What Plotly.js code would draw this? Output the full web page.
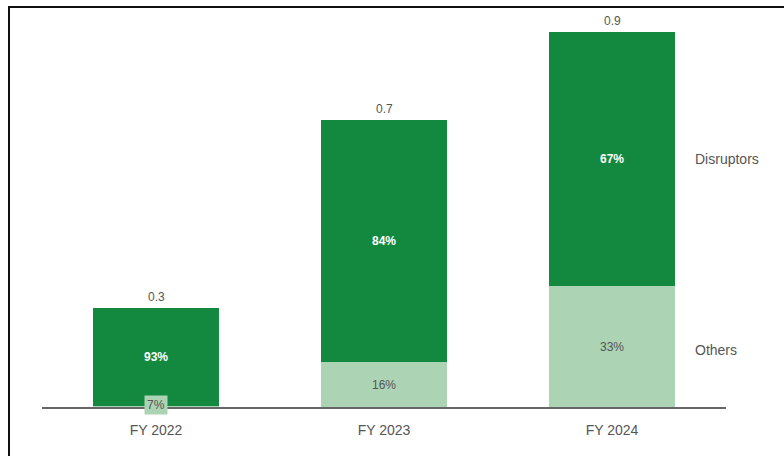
<!DOCTYPE html>
<html>
<head>
<meta charset="utf-8">
<script src="https://cdn.plot.ly/plotly-3.0.1.min.js"></script>
<style>
  html, body { margin: 0; padding: 0; background: #ffffff; }
  #wrap { position: relative; width: 784px; height: 456px; overflow: hidden; }
  #frame { position: absolute; left: 8px; top: 6px; width: 780px; height: 460px;
           border-left: 2px solid #111; border-top: 2px solid #111; box-sizing: border-box; }
  #chart { position: absolute; left: 0; top: 0; width: 784px; height: 456px; }
</style>
</head>
<body>
<div id="wrap">
  <div id="frame"></div>
  <div id="chart"></div>
</div>
<script>
const categories = ["FY 2022", "FY 2023", "FY 2024"];
const others = [0.002, 0.108, 0.29];
const disruptors = [0.236, 0.582, 0.61];
const totalLabels = ["0.3", "0.7", "0.9"];
const disruptorLabels = ["93%", "84%", "67%"];
const otherLabels = ["7%", "16%", "33%"];
const seriesNames = ["Others", "Disruptors"];

const darkGreen = "#13893f";
const lightGreen = "#abd3b4";
const textGrey = "#555555";
const fontFam = "Liberation Sans, Arial, sans-serif";

const traces = [
  { type: "bar", name: seriesNames[0], x: categories, y: others,
    marker: { color: lightGreen }, hoverinfo: "skip" },
  { type: "bar", name: seriesNames[1], x: categories, y: disruptors,
    marker: { color: darkGreen }, hoverinfo: "skip" }
];

const annotations = [];
categories.forEach((c, i) => {
  const total = others[i] + disruptors[i];
  annotations.push({ x: c, y: total, xref: "x", yref: "y", text: totalLabels[i],
    showarrow: false, yanchor: "bottom", yshift: 2,
    font: { family: fontFam, size: 12, color: textGrey } });
  annotations.push({ x: c, y: others[i] + disruptors[i] / 2, xref: "x", yref: "y",
    text: "<b>" + disruptorLabels[i] + "</b>", showarrow: false,
    font: { family: fontFam, size: 12, color: "#ffffff" } });
  const small = others[i] < 0.05;
  annotations.push({ x: c, y: others[i] / 2, xref: "x", yref: "y",
    text: otherLabels[i], showarrow: false, yshift: small ? 2 : 0,
    bgcolor: small ? lightGreen : "rgba(0,0,0,0)", borderpad: small ? 2 : 0,
    font: { family: fontFam, size: 12, color: textGrey } });
});
const last = categories.length - 1;
annotations.push({ x: 0.952, xref: "paper", y: others[last] + disruptors[last] / 2, yref: "y",
  text: seriesNames[1], showarrow: false, xanchor: "left",
  font: { family: fontFam, size: 14, color: textGrey } });
annotations.push({ x: 0.952, xref: "paper", y: others[last] / 2 - 0.008, yref: "y",
  text: seriesNames[0], showarrow: false, xanchor: "left",
  font: { family: fontFam, size: 14, color: textGrey } });

const layout = {
  width: 784, height: 456,
  margin: { l: 42, r: 58, t: 11, b: 49 },
  paper_bgcolor: "rgba(0,0,0,0)", plot_bgcolor: "rgba(0,0,0,0)",
  barmode: "stack", bargap: 0.45, showlegend: false,
  xaxis: { type: "category", range: [-0.5, 2.5], showline: true, linecolor: "#666666",
    linewidth: 2, ticks: "", showgrid: false, zeroline: false, fixedrange: true,
    ticklabelstandoff: 9,
    tickfont: { family: fontFam, size: 14, color: textGrey } },
  yaxis: { range: [0, 0.9504], visible: false, showgrid: false, zeroline: false, fixedrange: true },
  annotations: annotations
};

Plotly.newPlot("chart", traces, layout, { staticPlot: true, displayModeBar: false });
</script>
</body>
</html>
